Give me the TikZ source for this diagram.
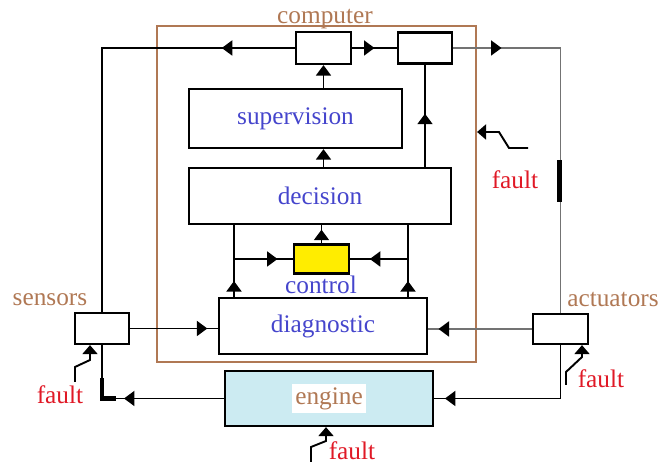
\documentclass[tikz,border=0pt]{standalone}
\usepackage{fontspec}
\setmainfont{Liberation Serif}
\usetikzlibrary{arrows.meta,decorations.markings}
\begin{document}
\begin{tikzpicture}[
  every node/.style={font=\fontsize{14.4}{17}\selectfont},
  blk/.style={draw=black,line width=1.3pt,inner sep=0pt},
  link/.style={line width=1.1pt},
  thickbit/.style={line width=2.4pt},
  midtip/.style={postaction={decorate},decoration={markings,
    mark=at position #1 with {\arrow[black]{Triangle[length=2.1mm,width=3mm]}}}},
  endtip/.style={-{Triangle[length=2.1mm,width=3mm]}},
  faultlink/.style={line width=1.1pt,-{Triangle[length=1.8mm,width=3mm]}}
]
%
\useasboundingbox (0,0) rectangle (13.18cm,9.30cm);
%
\definecolor{cbrown}{rgb}{0.69,0.47,0.33}
\definecolor{cblue}{rgb}{0.27,0.27,0.80}
\definecolor{cfault}{rgb}{0.88,0.10,0.15}
\definecolor{cengine}{rgb}{0.80,0.92,0.95}
\definecolor{cctrl}{rgb}{1.0,0.93,0.0}
\definecolor{cgrey}{rgb}{0.45,0.45,0.45}
%
\node[draw=cbrown,line width=1.2pt,minimum width=6.38cm,minimum height=6.72cm] (comp) at (6.33,5.42) {};
\node[text=cbrown] (comptxt) at (6.50,8.92) {computer};
%
\node[blk,minimum width=1.10cm,minimum height=0.64cm] (out1) at (6.47,8.34) {};
\node[blk,minimum width=1.08cm,minimum height=0.62cm] (out2) at (8.50,8.34) {};
\node[blk,minimum width=4.26cm,minimum height=1.18cm,text=cblue] (sup) at (5.91,6.93) {supervision};
\node[blk,minimum width=5.24cm,minimum height=1.12cm,text=cblue] (dec) at (6.40,5.38) {decision};
\node[blk,minimum width=1.10cm,minimum height=0.58cm,fill=cctrl] (ctrl) at (6.43,4.12) {};
\node[text=cblue] (ctrltxt) at (6.42,3.60) {control};
\node[blk,minimum width=4.16cm,minimum height=1.12cm,text=cblue] (diag) at (6.46,2.78) {diagnostic};
%
\node[blk,minimum width=1.08cm,minimum height=0.62cm] (sens) at (2.04,2.73) {};
\node[text=cbrown] (senstxt) at (1.00,3.30) {sensors};
\node[blk,minimum width=1.10cm,minimum height=0.60cm] (act) at (11.21,2.72) {};
\node[text=cbrown] (acttxt) at (12.26,3.30) {actuators};
\node[blk,minimum width=4.16cm,minimum height=1.10cm,fill=cengine] (eng) at (6.58,1.33) {};
\node[fill=white,text=cbrown,inner sep=2pt] (engtxt) at (eng) {engine};
%
\coordinate (brl) at (4.68,4.12);
\coordinate (brr) at (8.16,4.12);
\coordinate (fsens) at (1.50,1.66);
\coordinate (fact) at (11.32,1.60);
\coordinate (feng) at (6.22,0.06);
\coordinate (fcomp) at (10.56,6.34);
\coordinate (sbend) at (sens.south |- eng.west);
%
\draw[link,midtip=0.16] (out1.west) -| (sens.north);
\draw[link,midtip=0.5] (out1.east) -- (out2.west);
\draw[link,draw=cgrey,midtip=0.13] (out2.east) -| (act.north);
\draw[link,endtip] (sup.north -| out1) -- (out1.south);
\draw[link,endtip] (dec.north -| out1) -- (sup.south -| out1);
\draw[link,midtip=0.52] (dec.north -| out2) -- (out2.south);
%
\draw[link,midtip=0.75] (ctrl.north) -- (ctrl.north |- dec.south);
\draw[link,midtip=0.22] (diag.north -| brl) -- (dec.south -| brl);
\draw[link,midtip=0.22] (diag.north -| brr) -- (dec.south -| brr);
\draw[link,midtip=0.74] (brl) -- (ctrl.west);
\draw[link,midtip=0.66] (brr) -- (ctrl.east);
%
\draw[link,midtip=0.88] (sens.east) -- (sens.east -| diag.west);
\draw[link,draw=cgrey,midtip=0.9] (act.west) -- (act.west -| diag.east);
\draw[link,midtip=0.57] (eng.west) -| (sens.south);
\draw[link,midtip=0.94] (act.south) |- (eng.east);
\draw[thickbit] ([yshift=0.4cm]sbend) -- (sbend) -- ([xshift=0.28cm]sbend);
\draw[thickbit] (11.19,6.10) -- (11.19,5.26);
%
\draw[faultlink] (fsens) -- ++(0,0.30) -- ++(0.30,0.14) -- ([xshift=-0.24cm]sens.south);
\draw[faultlink] (fact) -- ++(0,0.26) -- ++(0.32,0.30) -- ([xshift=0.43cm]act.south);
\draw[faultlink] (feng) -- ++(0,0.30) -- ++(0.30,0.12) -- ([xshift=-0.06cm]eng.south);
\draw[faultlink] (fcomp) -- ++(-0.38,0) -- ++(-0.20,0.32) -- ([yshift=1.24cm]comp.east);
\node[text=cfault] (fsenstxt) at (1.20,1.40) {fault};
\node[text=cfault] (facttxt) at (12.02,1.73) {fault};
\node[text=cfault] (fengtxt) at (7.04,0.28) {fault};
\node[text=cfault] (fcomptxt) at (10.30,5.70) {fault};
%
\end{tikzpicture}
\end{document}
